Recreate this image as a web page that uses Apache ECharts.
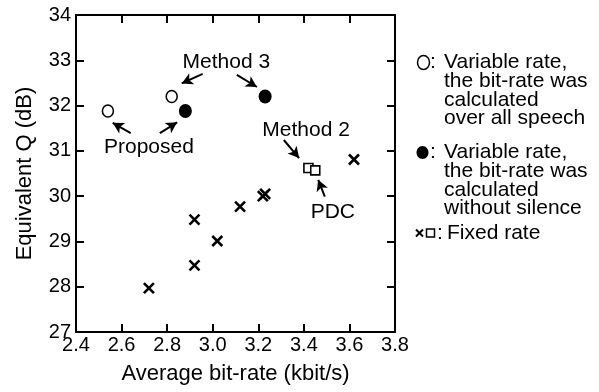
<!DOCTYPE html>
<html><head><meta charset="utf-8">
<script src="https://cdn.jsdelivr.net/npm/echarts@6/dist/echarts.min.js"></script>
<style>html,body{margin:0;padding:0;background:#fff}#c{width:599px;height:392px}</style>
</head><body><div id="c"></div>
<script>
// ---- data ----
const openCircles   = [[2.54, 31.88], [2.82, 32.20]];
const filledCircles = [[2.88, 31.88], [3.23, 32.20]];
const squares       = [[3.42, 30.62], [3.45, 30.57]];
const crosses       = [[2.72, 27.97], [2.92, 28.47], [2.92, 29.48], [3.02, 29.01],
                       [3.12, 29.77], [3.22, 30.00], [3.23, 30.05], [3.62, 30.81]];
const xMin = 2.4, xMax = 3.8, xStep = 0.2;
const yMin = 27, yMax = 34, yStep = 1;
const xAxisTitle = 'Average bit-rate (kbit/s)';
const yAxisTitle = 'Equivalent Q (dB)';
const annotationNames = ['Method 3', 'Proposed', 'Method 2', 'PDC'];
const annotationAt    = [[3.06, 32.96], [2.72, 31.09], [3.41, 31.46], [3.527, 29.65]];
const arrowFrom = [[2.956, 32.70], [3.106, 32.68], [2.640, 31.39], [2.768, 31.39], [3.312, 31.24], [3.492, 29.99]];
const arrowTo   = [[2.864, 32.49], [3.194, 32.41], [2.561, 31.62], [2.844, 31.63], [3.379, 30.84], [3.463, 30.36]];
const legendOpen   = ['Variable rate,', 'the bit-rate was', 'calculated', 'over all speech'];
const legendFilled = ['Variable rate,', 'the bit-rate was', 'calculated', 'without silence'];
const legendFixed  = ['Fixed rate'];

// ---- chart ----
const FONT = '"Liberation Sans", Arial, Helvetica, sans-serif';
const chart = echarts.init(document.getElementById('c'), null, {renderer: 'canvas'});
const crossPath = 'path://M0,0L10,10M10,0L0,10';

const baseX = {
  type: 'value', min: xMin, max: xMax, interval: xStep,
  axisLine: {show: true, lineStyle: {color: '#000', width: 2}},
  axisTick: {show: true, inside: true, length: 8, lineStyle: {color: '#000', width: 2}},
  splitLine: {show: false}
};
const baseY = {
  type: 'value', min: yMin, max: yMax, interval: yStep,
  axisLine: {show: true, lineStyle: {color: '#000', width: 2}},
  axisTick: {show: true, inside: true, length: 8, lineStyle: {color: '#000', width: 2}},
  splitLine: {show: false}
};

const option = {
  animation: false,
  backgroundColor: '#fff',
  grid: {left: 76, right: 204, top: 15, bottom: 60, containLabel: false},
  xAxis: [
    Object.assign({}, baseX, {
      position: 'bottom',
      name: xAxisTitle, nameLocation: 'middle', nameGap: 31,
      nameTextStyle: {fontFamily: FONT, fontSize: 22, color: '#000'},
      axisLabel: {show: true, margin: 3, fontFamily: FONT, fontSize: 20, color: '#000',
        formatter: v => v.toFixed(1)}
    }),
    Object.assign({}, baseX, {position: 'top', axisLabel: {show: false}})
  ],
  yAxis: [
    Object.assign({}, baseY, {
      position: 'left',
      name: yAxisTitle, nameLocation: 'middle', nameGap: 40, nameRotate: 90,
      nameTextStyle: {fontFamily: FONT, fontSize: 22, color: '#000'},
      axisLabel: {show: true, margin: 5, fontFamily: FONT, fontSize: 20, color: '#000'}
    }),
    Object.assign({}, baseY, {position: 'right', axisLabel: {show: false}})
  ],
  series: [
    {
      type: 'scatter', name: 'open', data: openCircles,
      symbol: 'circle', symbolSize: [11, 12],
      itemStyle: {color: '#fff', borderColor: '#000', borderWidth: 1.6, opacity: 1},
      emphasis: {disabled: true}, z: 3
    },
    {
      type: 'scatter', name: 'filled', data: filledCircles,
      symbol: 'circle', symbolSize: [13, 14],
      itemStyle: {color: '#000', borderColor: '#000', borderWidth: 0, opacity: 1},
      emphasis: {disabled: true}, z: 3
    },
    {
      type: 'scatter', name: 'squares', data: squares,
      symbol: 'rect', symbolSize: 9,
      itemStyle: {color: '#fff', borderColor: '#000', borderWidth: 1.6, opacity: 1},
      emphasis: {disabled: true}, z: 3
    },
    {
      type: 'scatter', name: 'crosses', data: crosses,
      symbol: crossPath, symbolSize: 10,
      itemStyle: {color: 'none', borderColor: '#000', borderWidth: 2.6, opacity: 1},
      emphasis: {disabled: true}, z: 3,
      markLine: {
        silent: true, animation: false,
        symbol: ['none', 'arrow'], symbolSize: [9, 11],
        lineStyle: {color: '#000', width: 2, type: 'solid', opacity: 1},
        label: {show: false},
        emphasis: {disabled: true},
        data: arrowFrom.map((p, i) => [{coord: p}, {coord: arrowTo[i]}])
      }
    },
    {
      type: 'scatter', name: 'annotations',
      data: annotationNames.map((n, i) => ({name: n, value: annotationAt[i]})),
      symbolSize: 1, itemStyle: {color: 'rgba(0,0,0,0)', opacity: 1},
      label: {show: true, position: 'inside', formatter: '{b}',
        fontFamily: FONT, fontSize: 21, color: '#000', opacity: 1},
      emphasis: {disabled: true}, silent: true, z: 4
    }
  ],
  graphic: [
    // open-circle legend entry
    {type: 'ellipse', shape: {cx: 423.5, cy: 62.5, rx: 6, ry: 7},
      style: {fill: '#fff', stroke: '#000', lineWidth: 1.5}},
    {type: 'text', x: 430, y: 62.5, style: {text: ':', font: '21px ' + FONT, fill: '#000', verticalAlign: 'middle'}},
    {type: 'text', x: 444, y: 53.2, style: {text: legendOpen.join('\n'), font: '21px ' + FONT, fill: '#000',
      lineHeight: 18.7, verticalAlign: 'top'}},
    // filled-circle legend entry
    {type: 'ellipse', shape: {cx: 422.5, cy: 152.5, rx: 6, ry: 6.5},
      style: {fill: '#000', stroke: '#000', lineWidth: 0}},
    {type: 'text', x: 430, y: 152.5, style: {text: ':', font: '21px ' + FONT, fill: '#000', verticalAlign: 'middle'}},
    {type: 'text', x: 444, y: 143.2, style: {text: legendFilled.join('\n'), font: '21px ' + FONT, fill: '#000',
      lineHeight: 18.7, verticalAlign: 'top'}},
    // fixed-rate legend entry
    {type: 'polyline', shape: {points: [[416, 229.5], [423, 236.5]]}, style: {stroke: '#000', lineWidth: 2}},
    {type: 'polyline', shape: {points: [[423, 229.5], [416, 236.5]]}, style: {stroke: '#000', lineWidth: 2}},
    {type: 'rect', shape: {x: 426.5, y: 229, width: 8, height: 8}, style: {fill: '#fff', stroke: '#000', lineWidth: 1.5}},
    {type: 'text', x: 437, y: 233, style: {text: ':', font: '21px ' + FONT, fill: '#000', verticalAlign: 'middle'}},
    {type: 'text', x: 447, y: 233, style: {text: legendFixed.join('\n'), font: '21px ' + FONT, fill: '#000', verticalAlign: 'middle'}}
  ]
};
chart.setOption(option);
</script>
</body></html>
